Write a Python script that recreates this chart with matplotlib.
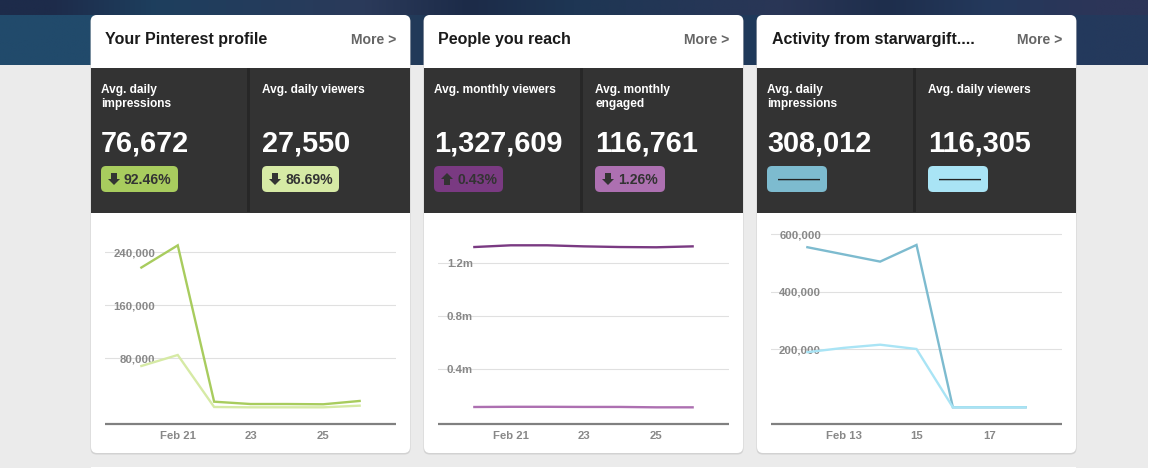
import numpy as np
import matplotlib
matplotlib.use("Agg")
import matplotlib.pyplot as plt
from matplotlib.patches import FancyBboxPatch, Rectangle, Polygon
from matplotlib.colors import to_rgb

plt.rcParams['font.family'] = ['Liberation Sans', 'DejaVu Sans']

# ---- data
days_a = [20, 21, 22, 23, 24, 25, 26]
days_c = [12, 13, 14, 15, 16, 17, 18]
impressions_a = [217000, 250500, 14500, 11000, 11000, 10600, 15600]
viewers_a = [68400, 85000, 6500, 6000, 6000, 6000, 8500]
monthly_viewers = [1.323, 1.336, 1.336, 1.328, 1.323, 1.321, 1.328]
monthly_engaged = [0.1155, 0.117, 0.117, 0.116, 0.116, 0.113, 0.113]
impressions_c = [555000, 530000, 505000, 563000, -1700, -1700, -1700]
viewers_c = [190000, 205000, 216000, 201000, -1700, -1700, -1700]

titles = ["Your Pinterest profile", "People you reach", "Activity from starwargift...."]
metric_labels = [["Avg. daily\nimpressions", "Avg. daily viewers"],
                 ["Avg. monthly viewers", "Avg. monthly\nengaged"],
                 ["Avg. daily\nimpressions", "Avg. daily viewers"]]
metric_values = [["76,672", "27,550"], ["1,327,609", "116,761"], ["308,012", "116,305"]]
badge_texts = [["92.46%", "86.69%"], ["0.43%", "1.26%"], ["———", "———"]]
badge_dirs = [["down", "down"], ["up", "down"], [None, None]]
colors = [["#A8CC5E", "#D6EAA5"], ["#7A3A82", "#AD70B1"], ["#7DBBCF", "#A9E4F5"]]
yticks = [[80000, 160000, 240000], [0.4, 0.8, 1.2], [200000, 400000, 600000]]
ylabels = [["80,000", "160,000", "240,000"], ["0.4m", "0.8m", "1.2m"],
           ["200,000", "400,000", "600,000"]]
xticks = [[21, 23, 25], [21, 23, 25], [13, 15, 17]]
xlabels = [["Feb 21", "23", "25"], ["Feb 21", "23", "25"], ["Feb 13", "15", "17"]]
series = [(days_a, impressions_a, viewers_a), (days_a, monthly_viewers, monthly_engaged),
          (days_c, impressions_c, viewers_c)]
ylims = [(-19170, 288750), (-0.0128, 1.527), (-59800, 649700)]
xlims = [(19, 27), (19, 27), (11, 19)]

band_top = ["#1D2B4A", "#1E3F5E", "#243C5C", "#2B3A5A", "#1C2B48", "#1E3654", "#243656",
            "#2A3656", "#1E2E4C", "#24395C", "#2C3558"]
band_low = ["#214A6B", "#214A6B", "#234668", "#27405F", "#1D3554", "#1E3A5A", "#22385A",
            "#1F3A5A", "#20375A", "#23395D", "#24395C"]

W, H = 1152, 476
fig = plt.figure(figsize=(W / 100, H / 100), dpi=100, facecolor="white")
bg = fig.add_axes([0, 0, 1, 1])
bg.axis("off")

bg.add_patch(Rectangle((0, 0), 1148, 468, fc="#EBEBEB", ec="none", zorder=0))
bg.imshow(np.array([[to_rgb(c) for c in band_top]]), extent=(0, 1148, 15, 0), aspect="auto",
          interpolation="bilinear", zorder=1)
bg.imshow(np.array([[to_rgb(c) for c in band_low]]), extent=(0, 1148, 65, 15), aspect="auto",
          interpolation="bilinear", zorder=1)
bg.add_patch(Rectangle((91, 467), 985, 9, fc="white", ec="none", zorder=2))
bg.set_xlim(0, W)
bg.set_ylim(H, 0)


def rbox(x0, y0, x1, y1, r, fc, z):
    bg.add_patch(FancyBboxPatch((x0 + r, y0 + r), x1 - x0 - 2 * r, y1 - y0 - 2 * r,
                                boxstyle=f"round,pad={r},rounding_size={r}",
                                fc=fc, ec="none", zorder=z))


card_x = [91, 424, 757]
title_x = [105, 438, 771.5]
col_text_x = [[101, 262], [434, 595], [767, 928.5]]
divider_x = [156, 155.5, 155.5]
badge_x = [[(101, 178), (262, 339)], [(434, 503), (595, 665)], [(767, 827), (928, 988)]]
chart_left = [105, 438, 771]
ylabel_right_px = [50, 35, 50]

for i in range(3):
    x0 = card_x[i]
    x1 = x0 + 319
    rbox(x0 - 0.5, 15.5, x1 + 0.5, 454.5, 6, "#D2D2D2", 3)
    rbox(x0, 15, x1, 453, 6, "white", 4)
    bg.add_patch(Rectangle((x0, 68), 319, 145, fc="#333333", ec="none", zorder=5))
    bg.add_patch(Rectangle((x0 + divider_x[i], 68), 3, 144, fc="#272727", ec="none", zorder=6))
    bg.text(title_x[i], 44, titles[i], fontsize=11.5, fontweight="bold", color="#1A1A1A",
            va="baseline", ha="left", zorder=7)
    bg.text(chart_left[i] + 291, 44, "More >", fontsize=10.1, fontweight="bold", color="#666666",
            va="baseline", ha="right", zorder=7)
    for j in range(2):
        tx = col_text_x[i][j]
        label_y = 107 if "\n" in metric_labels[i][j] else 93
        bg.text(tx, label_y, metric_labels[i][j], fontsize=8.6, fontweight="bold", color="white",
                va="baseline", ha="left", linespacing=1.17, zorder=7)
        bg.text(tx, 152, metric_values[i][j], fontsize=20.8, fontweight="bold", color="white",
                va="baseline", ha="left", zorder=7)
        bx0, bx1 = badge_x[i][j]
        rbox(bx0, 166, bx1, 192, 5, colors[i][j], 6)
        d = badge_dirs[i][j]
        if d is None:
            bg.text(bx0 + 11, 184, badge_texts[i][j], fontsize=10.1, fontweight="bold",
                    color="#222222", va="baseline", ha="left", zorder=7)
        else:
            cx = bx0 + 13
            if d == "down":
                pts = [(cx - 3, 173), (cx + 3, 173), (cx + 3, 179), (cx + 6, 179), (cx, 185),
                       (cx - 6, 179), (cx - 3, 179)]
            else:
                pts = [(cx - 3, 185), (cx + 3, 185), (cx + 3, 179), (cx + 6, 179), (cx, 173),
                       (cx - 6, 179), (cx - 3, 179)]
            bg.add_patch(Polygon(pts, closed=True, fc="#333333", ec="none", zorder=7))
            bg.text(bx0 + 23, 184, badge_texts[i][j], fontsize=10.1, fontweight="bold",
                    color="#333333", va="baseline", ha="left", zorder=7)

    ax = fig.add_axes([chart_left[i] / W, 1 - 424 / H, 291 / W, 204 / H], facecolor="none")
    ax.set_zorder(5)
    xs, s1, s2 = series[i]
    ax.plot(xs, s1, color=colors[i][0], lw=1.7, solid_joinstyle="miter", zorder=3)
    ax.plot(xs, s2, color=colors[i][1], lw=1.7, solid_joinstyle="miter", zorder=4)
    ax.set_xlim(*xlims[i])
    ax.set_ylim(*ylims[i])
    ax.set_xticks(xticks[i], xlabels[i])
    ax.set_yticks(yticks[i], ylabels[i])
    ax.grid(axis="y", color="#E0E0E0", lw=0.8)
    ax.set_axisbelow(True)
    for s in ("top", "left", "right"):
        ax.spines[s].set_visible(False)
    ax.spines["bottom"].set_color("#808080")
    ax.spines["bottom"].set_linewidth(1.6)
    ax.spines["bottom"].set_capstyle("butt")
    ax.tick_params(axis="both", length=0, labelcolor="#888888", labelsize=8.2)
    ax.tick_params(axis="y", pad=-ylabel_right_px[i] * 0.72)
    ax.tick_params(axis="x", pad=5)
    for lab in ax.get_xticklabels() + ax.get_yticklabels():
        lab.set_fontweight("bold")

fig.savefig("out.png", dpi=100, facecolor="white")
